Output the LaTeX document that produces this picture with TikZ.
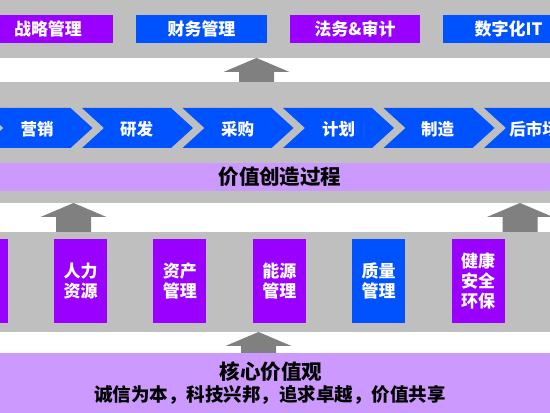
\documentclass[tikz,border=0pt]{standalone}
\usepackage{fontspec}
\setmainfont{Noto Sans CJK SC}

\begin{document}
\begin{tikzpicture}[x=1pt,y=1pt,
  topbox/.style={text=white,font=\bfseries\fontsize{17}{20}\selectfont,inner sep=0pt,outer sep=0pt,minimum width=130.5pt,minimum height=28pt},
  stepbox/.style={text=white,font=\bfseries\fontsize{16.5}{20}\selectfont,inner sep=0pt,outer sep=0pt},
  colbox/.style={text=white,font=\bfseries\fontsize{17}{20}\selectfont,inner sep=0pt,outer sep=0pt,align=center,minimum width=53pt,minimum height=84pt},
  bandtext/.style={text=black,font=\bfseries\fontsize{20.5}{24}\selectfont,inner sep=0pt,outer sep=0pt}]
\definecolor{fillColor}{RGB}{255,255,255}
\path[use as bounding box,fill=fillColor] (0,0) rectangle (550,413);
\begin{scope}
\path[clip] (0,0) rectangle (550,413);
\definecolor{grayColor}{RGB}{191,191,191}
\definecolor{purpleColor}{RGB}{153,0,255}
\definecolor{blueColor}{RGB}{0,82,255}
\definecolor{lilacColor}{RGB}{204,153,255}
\definecolor{arrowColor}{RGB}{128,128,128}

% gray bands
\path[fill=grayColor] (0,355) rectangle (550,413);
\path[fill=grayColor] (0,210) rectangle (550,331);
\path[fill=grayColor] (0,81) rectangle (550,181);
\path[fill=lilacColor] (0,0) rectangle (550,60);

% top row
\node[topbox,fill=purpleColor] (zhanlue) at ( 48.0,384) {战略管理};
\node[topbox,fill=blueColor] (caiwu) at (201.5,384) {财务管理};
\node[topbox,fill=purpleColor] (fawu) at (355.0,384) {法务\&审计};
\node[topbox,fill=blueColor] (shuzihua) at (508.5,384) {数字化IT};

% value chain
\path[fill=blueColor] (-119,305) -- (-30,305) -- (-8,285) -- (-30,265) -- (-119,265) -- (-97,285) -- cycle;
\path[fill=blueColor] (-18.5,305) -- (70.5,305) -- (92.5,285) -- (70.5,265) -- (-18.5,265) -- (3.5,285) -- cycle;
\path[fill=blueColor] (82,305) -- (171,305) -- (193,285) -- (171,265) -- (82,265) -- (104,285) -- cycle;
\path[fill=blueColor] (182.5,305) -- (271.5,305) -- (293.5,285) -- (271.5,265) -- (182.5,265) -- (204.5,285) -- cycle;
\path[fill=blueColor] (283,305) -- (372,305) -- (394,285) -- (372,265) -- (283,265) -- (305,285) -- cycle;
\path[fill=blueColor] (383.5,305) -- (472.5,305) -- (494.5,285) -- (472.5,265) -- (383.5,265) -- (405.5,285) -- cycle;
\path[fill=blueColor] (484,305) -- (573,305) -- (595,285) -- (573,265) -- (484,265) -- (506,285) -- cycle;

\node[stepbox] (yingxiao) at ( 37.0,284) {营销};
\node[stepbox] (yanfa) at (136.5,284) {研发};
\node[stepbox] (caigou) at (237.5,284) {采购};
\node[stepbox] (jihua) at (338.5,284) {计划};
\node[stepbox] (zhizao) at (437.5,284) {制造};
\node[stepbox] (houshichang) at (534.0,284) {后市场};

\path[fill=lilacColor] (0,222) rectangle (550,250);
\node[bandtext] (chuangzao) at (280,236) {价值创造过程};

% support columns
\path[fill=purpleColor] (-45.4,90) rectangle (7.6,174);
\node[colbox,fill=purpleColor] (renli) at ( 80.5,132) {人力\\资源};
\node[colbox,fill=purpleColor] (zichan) at (179.9,132) {资产\\管理};
\node[colbox,fill=purpleColor] (nengyuan) at (279.3,132) {能源\\管理};
\node[colbox,fill=blueColor] (zhiliang) at (378.7,132) {质量\\管理};
\node[colbox,fill=purpleColor] (jiankang) at (478.1,132) {健康\\安全\\环保};

% arrows
\path[fill=arrowColor] (239,331) -- (239,341) -- (223.5,341) -- (256.5,355) -- (289.5,341) -- (274,341) -- (274,331) -- cycle;
\path[fill=arrowColor] (56,181) -- (56,196) -- (40.5,196) -- (73.5,210) -- (106.5,196) -- (91,196) -- (91,181) -- cycle;
\path[fill=arrowColor] (502.5,181) -- (502.5,196) -- (487,196) -- (520,210) -- (553,196) -- (537.5,196) -- (537.5,181) -- cycle;
\path[fill=arrowColor] (241,60) -- (241,67) -- (225.5,67) -- (258.5,81) -- (291.5,67) -- (276,67) -- (276,60) -- cycle;

% core values
\node[bandtext] (hexin) at (271,41) {核心价值观};
\node[text=black,font=\bfseries\fontsize{18.5}{22}\selectfont,inner sep=0pt,outer sep=0pt] (jiazhi) at (270,18) {诚信为本，科技兴邦，追求卓越，价值共享};
\end{scope}
\end{tikzpicture}
\end{document}
